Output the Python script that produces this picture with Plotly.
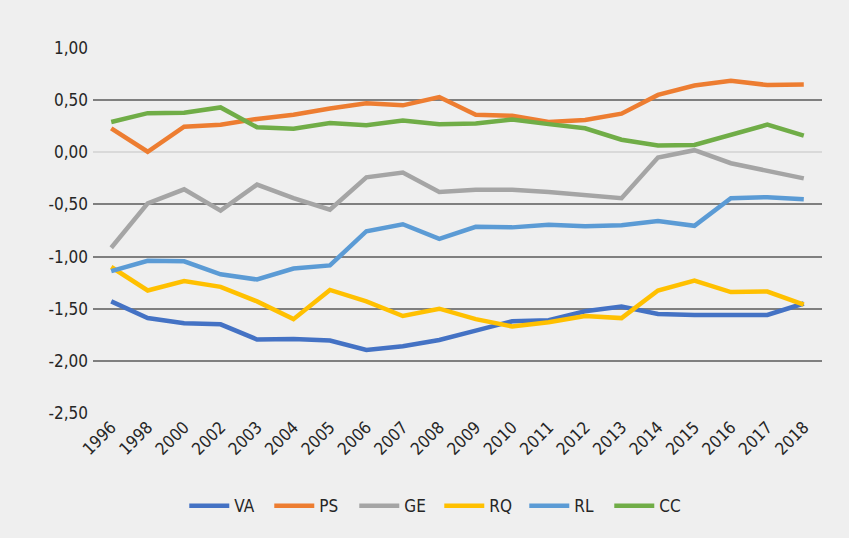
import plotly.graph_objects as go

years = ["1996", "1998", "2000", "2002", "2003", "2004", "2005", "2006", "2007", "2008",
         "2009", "2010", "2011", "2012", "2013", "2014", "2015", "2016", "2017", "2018"]

VA = [-1.43, -1.59, -1.64, -1.65, -1.795, -1.79, -1.805, -1.895, -1.86, -1.80,
      -1.71, -1.62, -1.61, -1.525, -1.48, -1.55, -1.56, -1.565, -1.56, -1.45]
PS = [0.23, 0.005, 0.245, 0.265, 0.32, 0.36, 0.42, 0.47, 0.45, 0.53,
      0.36, 0.35, 0.29, 0.31, 0.37, 0.55, 0.64, 0.685, 0.645, 0.65]
GE = [-0.915, -0.49, -0.355, -0.56, -0.31, -0.44, -0.55, -0.24, -0.195, -0.38,
      -0.36, -0.36, -0.38, -0.405, -0.44, -0.05, 0.02, -0.105, -0.18, -0.25]
RQ = [-1.10, -1.325, -1.235, -1.29, -1.43, -1.60, -1.32, -1.43, -1.57, -1.50,
      -1.60, -1.67, -1.63, -1.57, -1.59, -1.325, -1.23, -1.34, -1.335, -1.46]
RL = [-1.14, -1.04, -1.045, -1.17, -1.22, -1.115, -1.085, -0.757, -0.69, -0.83,
      -0.715, -0.72, -0.695, -0.71, -0.70, -0.66, -0.705, -0.44, -0.43, -0.45]
CC = [0.29, 0.375, 0.38, 0.43, 0.24, 0.225, 0.28, 0.26, 0.305, 0.27,
      0.275, 0.315, 0.27, 0.23, 0.12, 0.065, 0.07, 0.17, 0.265, 0.16]

y_tickvals = [1.0, 0.5, 0.0, -0.5, -1.0, -1.5, -2.0, -2.5]
y_ticktext = ["1,00", "0,50", "0,00", "-0,50", "-1,00", "-1,50", "-2,00", "-2,50"]

series = [("VA", VA, "#4472C4"), ("PS", PS, "#ED7D31"), ("GE", GE, "#A5A5A5"),
          ("RQ", RQ, "#FFC000"), ("RL", RL, "#5B9BD5"), ("CC", CC, "#70AD47")]

FONT = "DejaVu Sans Condensed, Liberation Sans Narrow, Arial Narrow, Liberation Sans, Arial, sans-serif"

fig = go.Figure()
for name, vals, col in series:
    fig.add_trace(go.Scatter(x=years, y=vals, name=name, mode="lines",
                             line=dict(color=col, width=4.5)))

W, H = 841, 530
L, R, T, B = 85, 27, 40, 125

fig.update_layout(
    width=W, height=H,
    margin=dict(l=L, r=R, t=T, b=B),
    paper_bgcolor="#efefef",
    plot_bgcolor="rgba(0,0,0,0)",
    font=dict(family=FONT, size=17, color="#262626"),
    showlegend=True,
    legend=dict(orientation="h", x=0.475, xanchor="center", y=-0.255, yanchor="middle",
                bgcolor="rgba(0,0,0,0)", font=dict(size=17), itemwidth=40,
                entrywidth=30, entrywidthmode="pixels", tracegroupgap=0),
    xaxis=dict(type="category", range=[-0.5, len(years) - 0.5],
               showgrid=False, zeroline=False, showline=False,
               tickangle=-45, ticks="", tickfont=dict(size=17)),
    yaxis=dict(range=[-2.5, 1.0], tickvals=y_tickvals, ticktext=y_ticktext,
               showgrid=True, gridcolor="#7f7f7f", gridwidth=1.5,
               zeroline=True, zerolinecolor="#d9d9d9", zerolinewidth=1.5,
               showline=False, ticks="", ticklabelstandoff=4),
)

fig.write_html("out.html", post_script="document.body.style.backgroundColor='#efefef';")
